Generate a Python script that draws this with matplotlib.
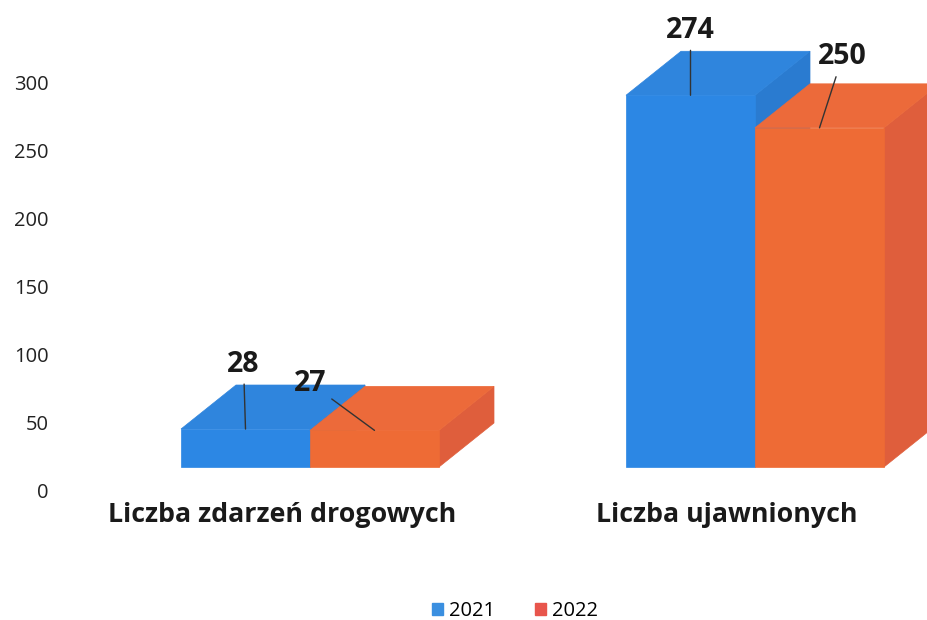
import matplotlib
matplotlib.use("Agg")
import matplotlib.pyplot as plt
from matplotlib.patches import Polygon, Patch
from matplotlib.transforms import ScaledTranslation

# ---- data ----
categories = ["Liczba zdarzeń drogowych", "Liczba ujawnionych"]
series_names = ["2021", "2022"]
values_2021 = [28, 274]
values_2022 = [27, 250]
y_ticks = [0, 50, 100, 150, 200, 250, 300]

# ---- style ----
W, H, DPI = 927, 620, 100
front_cols = ["#2C87E4", "#EE6B35"]
top_cols = ["#2F85DD", "#EC6A3A"]
side_cols = ["#2A7BD0", "#DF5E3C"]
legend_cols = ["#3A8FE0", "#E8554C"]
plt.rcParams["font.family"] = ["Open Sans", "DejaVu Sans"]

fig = plt.figure(figsize=(W / DPI, H / DPI), dpi=DPI)
left_px, zero_px = 60, 490
ax = fig.add_axes([left_px / W, (H - zero_px) / H, 1 - left_px / W, zero_px / H])

px_per_x = 445.0          # pixels per category step
px_per_y = 407.0 / 300.0  # pixels per value unit
ax.set_xlim((left_px - 310) / px_per_x, (W - 310) / px_per_x)
ax.set_ylim(0, zero_px / px_per_y)

bar_w = 129 / px_per_x
floor = 23 / px_per_y
dx = 55 / px_per_x
dy = 44 / px_per_y

def draw_bar(x0, val, k):
    x1 = x0 + bar_w
    b, t = floor, floor + val
    side = [(x1, b), (x1 + dx, b + dy), (x1 + dx, t + dy), (x1, t)]
    top = [(x0, t), (x1, t), (x1 + dx, t + dy), (x0 + dx, t + dy)]
    front = [(x0, b), (x1, b), (x1, t), (x0, t)]
    for pts, c in ((side, side_cols[k]), (top, top_cols[k]), (front, front_cols[k])):
        ax.add_patch(Polygon(pts, closed=True, facecolor=c, edgecolor=c, lw=0.5))

series = [values_2021, values_2022]
for i in range(len(categories)):
    for k, vals in enumerate(series):
        draw_bar(i - bar_w + k * bar_w, vals[i], k)

# data labels with leader lines
label_offsets = [[(-2, 65), (-64, 47)], [(0, 65), (23, 71)]]
for i in range(len(categories)):
    for k, vals in enumerate(series):
        xc = i - bar_w + k * bar_w + bar_w / 2
        yt = floor + vals[i]
        ox, oy = label_offsets[i][k]
        ax.annotate(str(vals[i]), xy=(xc, yt), xytext=(ox, oy),
                    textcoords="offset pixels", ha="center", va="center",
                    fontsize=20.5, fontweight="bold", color="#1a1a1a",
                    arrowprops=dict(arrowstyle="-", color="#333333", lw=1.0,
                                    shrinkA=2, shrinkB=0))

# axes styling
for s in ax.spines.values():
    s.set_visible(False)
ax.set_yticks(y_ticks)
ax.set_yticklabels([str(v) for v in y_ticks])
ax.tick_params(axis="y", length=0, pad=8, labelsize=14.5, labelcolor="#222222")
ax.set_xticks(range(len(categories)))
ax.set_xticklabels(categories, fontsize=19.3, fontweight="bold", color="#1a1a1a")
ax.tick_params(axis="x", length=0, pad=8.5)
shift = ScaledTranslation(-28 / DPI, 0, fig.dpi_scale_trans)
for lab in ax.get_xticklabels():
    lab.set_transform(lab.get_transform() + shift)

handles = [Patch(facecolor=legend_cols[k], edgecolor=legend_cols[k]) for k in range(2)]
fig.legend(handles, series_names, loc="center", bbox_to_anchor=(515 / W, 1 - 611 / H),
           ncol=2, frameon=False, fontsize=14.5, handlelength=0.55, handleheight=0.55,
           handletextpad=0.3, columnspacing=2.0, borderpad=0.2)

fig.savefig("out.png", dpi=DPI)
